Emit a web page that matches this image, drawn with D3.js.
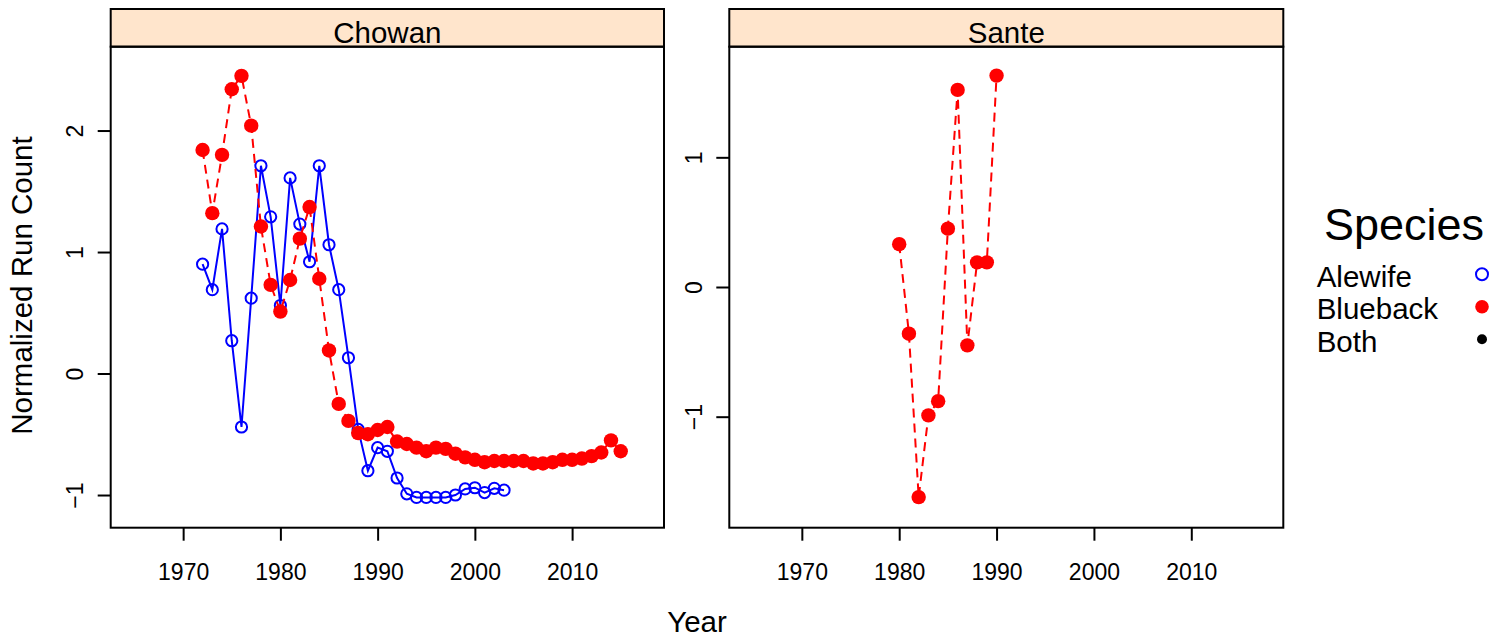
<!DOCTYPE html>
<html>
<head>
<meta charset="utf-8">
<script src="https://cdn.jsdelivr.net/npm/d3@7/dist/d3.min.js"></script>
<style>
  html, body { margin: 0; padding: 0; background: #fff; }
  svg { display: block; font-family: "Liberation Sans", Arial, Helvetica, sans-serif; }
</style>
</head>
<body>
<svg id="chart" width="1507" height="643"></svg>
<script>
// ---- Data ----
const chowanAlewifeYears = d3.range(1972, 2004);
const chowanAlewifeValues = [0.90, 0.69, 1.19, 0.27, -0.44, 0.62, 1.71, 1.29, 0.56, 1.61,
  1.23, 0.92, 1.71, 1.06, 0.69, 0.13, -0.46, -0.80, -0.61, -0.64,
  -0.86, -0.99, -1.02, -1.02, -1.02, -1.02, -1.00, -0.95, -0.94, -0.98,
  -0.945, -0.96];

const chowanBluebackYears = d3.range(1972, 2016);
const chowanBluebackValues = [1.84, 1.32, 1.80, 2.34, 2.45, 2.04, 1.21, 0.73, 0.51, 0.77,
  1.11, 1.37, 0.78, 0.19, -0.25, -0.39, -0.49, -0.50, -0.465, -0.44,
  -0.56, -0.58, -0.61, -0.64, -0.61, -0.62, -0.66, -0.69, -0.71, -0.73,
  -0.72, -0.72, -0.72, -0.72, -0.74, -0.74, -0.73, -0.71, -0.71, -0.70,
  -0.68, -0.65, -0.55, -0.64];

const santeBluebackYears = d3.range(1980, 1991);
const santeBluebackValues = [0.33, -0.36, -1.62, -0.99, -0.88, 0.45, 1.52, -0.45, 0.19, 0.19, 1.63];

const panelNames = ["Chowan", "Sante"];
const xTickValues = [1970, 1980, 1990, 2000, 2010];
const chowanYTicks = [-1, 0, 1, 2];
const santeYTicks = [-1, 0, 1];
const legendLabels = ["Alewife", "Blueback", "Both"];

// ---- Layout ----
const svg = d3.select("#chart");
const FONT = "'Liberation Sans', Arial, Helvetica, sans-serif";
const plotTop = 46.7, plotBottom = 527.7, stripTop = 9;
const panels = [
  { name: panelNames[0], left: 110.7, right: 664, yDomain: [-1.269, 2.69], yTicks: chowanYTicks,
    series: [
      { years: chowanAlewifeYears, values: chowanAlewifeValues, color: "#0000FF", filled: false, dash: null },
      { years: chowanBluebackYears, values: chowanBluebackValues, color: "#FF0000", filled: true, dash: "9,6" }
    ] },
  { name: panelNames[1], left: 729.3, right: 1283.3, yDomain: [-1.856, 1.853], yTicks: santeYTicks,
    series: [
      { years: santeBluebackYears, values: santeBluebackValues, color: "#FF0000", filled: true, dash: "9,6" }
    ] }
];
const xDomain = [1962.55, 2019.45];

panels.forEach(p => {
  const x = d3.scaleLinear().domain(xDomain).range([p.left, p.right]);
  const y = d3.scaleLinear().domain(p.yDomain).range([plotBottom, plotTop]);
  const g = svg.append("g");

  // strip
  g.append("rect").attr("x", p.left).attr("y", stripTop)
    .attr("width", p.right - p.left).attr("height", plotTop - stripTop)
    .attr("fill", "#FFE5CC").attr("stroke", "#000").attr("stroke-width", 2);
  g.append("text").attr("x", (p.left + p.right) / 2).attr("y", 43)
    .attr("text-anchor", "middle").attr("font-size", 29.5).attr("font-family", FONT)
    .text(p.name);

  // clip
  const clipId = "clip-" + p.name;
  svg.append("clipPath").attr("id", clipId).append("rect")
    .attr("x", p.left).attr("y", plotTop).attr("width", p.right - p.left).attr("height", plotBottom - plotTop);

  const dataG = g.append("g").attr("clip-path", `url(#${clipId})`);
  p.series.forEach(s => {
    const pts = s.years.map((yr, i) => [yr, s.values[i]]);
    const line = d3.line().x(d => x(d[0])).y(d => y(d[1]));
    dataG.append("path").datum(pts).attr("d", line)
      .attr("fill", "none").attr("stroke", s.color).attr("stroke-width", 2)
      .attr("stroke-dasharray", s.dash);
    dataG.selectAll(null).data(pts).enter().append("circle")
      .attr("cx", d => x(d[0])).attr("cy", d => y(d[1]))
      .attr("r", s.filled ? 7.2 : 5.6)
      .attr("fill", s.filled ? s.color : "none")
      .attr("stroke", s.color).attr("stroke-width", s.filled ? 0 : 2);
  });

  // box
  g.append("rect").attr("x", p.left).attr("y", plotTop)
    .attr("width", p.right - p.left).attr("height", plotBottom - plotTop)
    .attr("fill", "none").attr("stroke", "#000").attr("stroke-width", 2);

  // x axis
  const xa = g.append("g").attr("transform", `translate(0,${plotBottom})`)
    .call(d3.axisBottom(x).tickValues(xTickValues).tickFormat(d3.format("d"))
      .tickSize(13).tickPadding(23));
  xa.select(".domain").remove();
  xa.selectAll("line").attr("stroke", "#000").attr("stroke-width", 2);
  xa.selectAll("text").attr("font-size", 23).attr("font-family", FONT).attr("fill", "#000");

  // y axis
  const ya = g.append("g").attr("transform", `translate(${p.left},0)`)
    .call(d3.axisLeft(y).tickValues(p.yTicks).tickFormat(d3.format("d")).tickSize(13));
  ya.select(".domain").remove();
  ya.selectAll("line").attr("stroke", "#000").attr("stroke-width", 2);
  ya.selectAll("text").attr("x", null).attr("dy", null)
    .attr("transform", "translate(-27.5,0) rotate(-90)")
    .attr("text-anchor", "middle")
    .attr("font-size", 23).attr("font-family", FONT).attr("fill", "#000");
});

// axis titles
svg.append("text").attr("transform", "translate(32.3,285.5) rotate(-90)")
  .attr("text-anchor", "middle").attr("font-size", 29.5).attr("font-family", FONT)
  .text("Normalized Run Count");
svg.append("text").attr("x", 697).attr("y", 632)
  .attr("text-anchor", "middle").attr("font-size", 29.5).attr("font-family", FONT)
  .text("Year");

// legend
svg.append("text").attr("x", 1404).attr("y", 240)
  .attr("text-anchor", "middle").attr("font-size", 45).attr("font-family", FONT)
  .text("Species");
const legendSym = [
  { fill: "none", stroke: "#0000FF", r: 6, sw: 2 },
  { fill: "#FF0000", stroke: "none", r: 6.8, sw: 0 },
  { fill: "#000", stroke: "none", r: 5, sw: 0 }
];
legendLabels.forEach((lab, i) => {
  const by = 286.7 + i * 32.5;
  svg.append("text").attr("x", 1316.7).attr("y", by)
    .attr("font-size", 29.5).attr("font-family", FONT).text(lab);
  const s = legendSym[i];
  svg.append("circle").attr("cx", 1482).attr("cy", by - 12.5).attr("r", s.r)
    .attr("fill", s.fill).attr("stroke", s.stroke).attr("stroke-width", s.sw);
});
</script>
</body>
</html>
